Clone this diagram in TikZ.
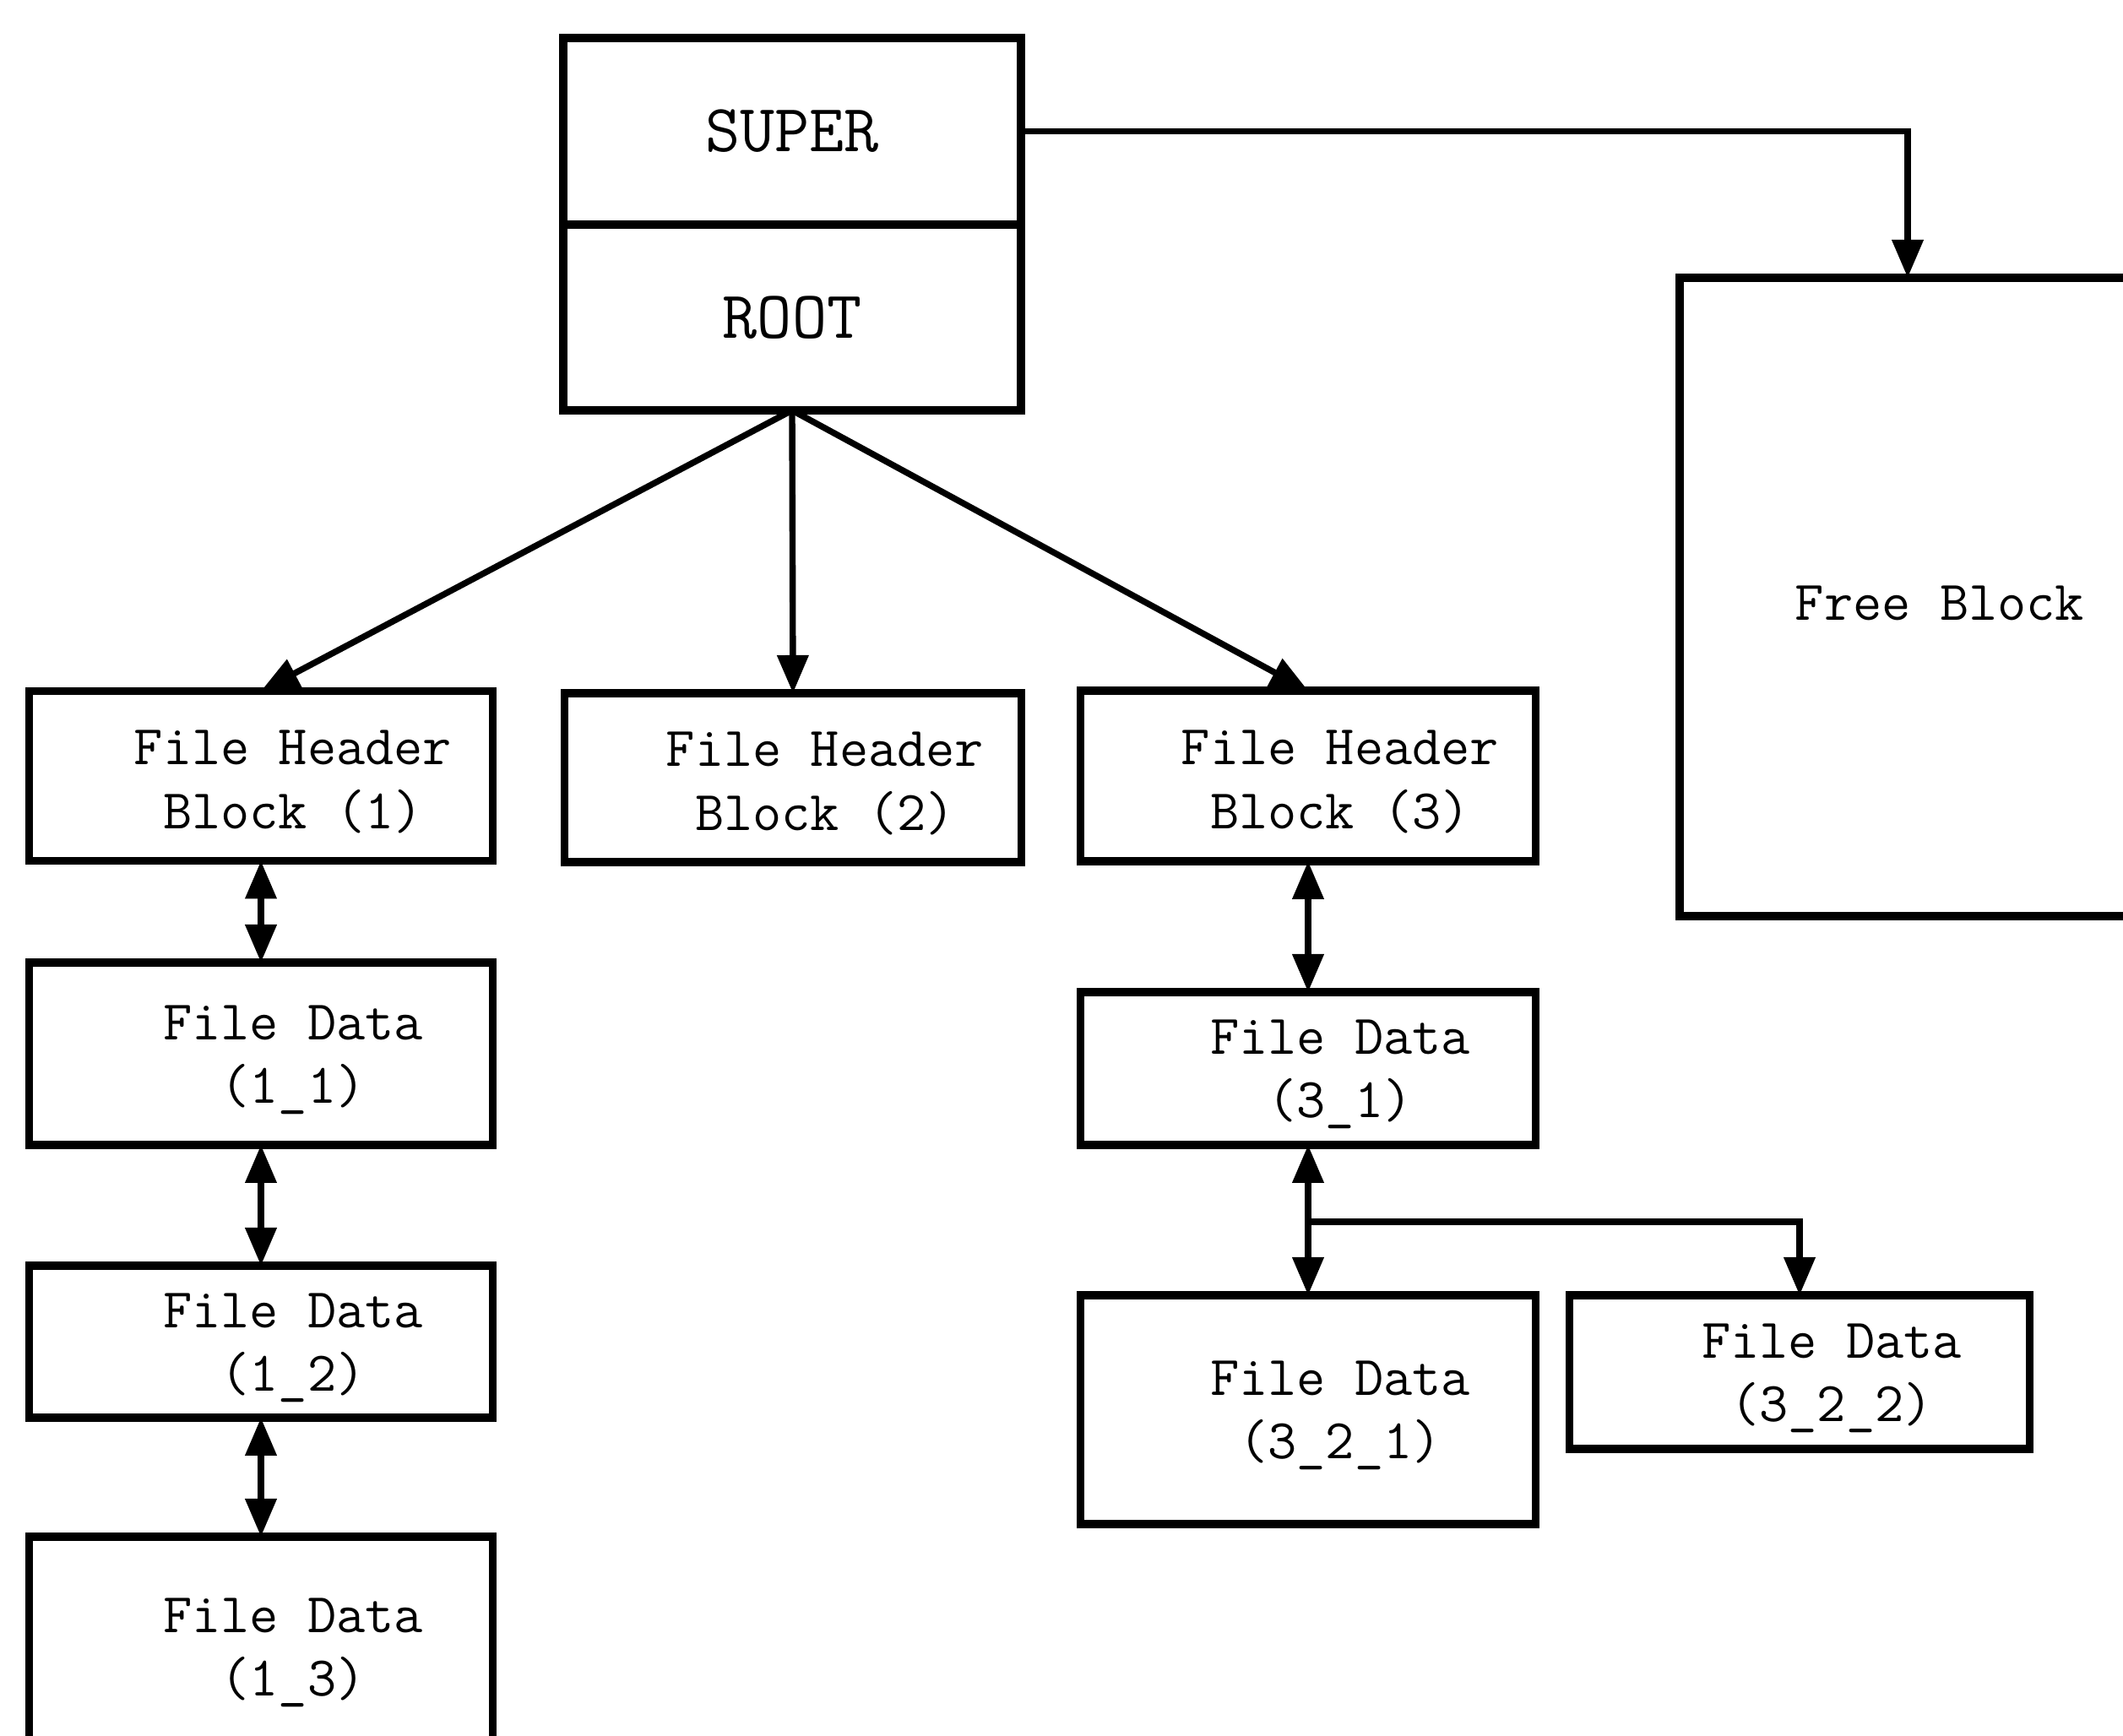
\documentclass[tikz,border=0pt]{standalone}
\usetikzlibrary{arrows.meta}

\tikzset{
    blk/.style={draw, line width=2.6pt, outer sep=0pt, inner sep=0pt},
    big/.style={font=\ttfamily\fontsize{22.7}{26}\selectfont},
    txt/.style={align=center, font=\ttfamily\fontsize{18.9}{21.4}\selectfont, xshift=0.38cm, yshift=-0.07cm},
    arr/.style={line width=2.1pt, -{Triangle[length=0.45cm, width=0.36cm]}},
    darr/.style={line width=2.1pt, {Triangle[length=0.45cm, width=0.36cm]}-{Triangle[length=0.45cm, width=0.36cm]}}
}

\begin{document}
\begin{tikzpicture}

    \useasboundingbox (0, 0) rectangle (25.14, 20.56);
    \clip (0, 0) rectangle (25.14, 20.56);

    % super and root blocks
    \node[blk, big, minimum width=5.42cm, minimum height=2.21cm] (super) at (9.38, 19.005) {SUPER};
    \node[blk, big, minimum width=5.42cm, minimum height=2.20cm] (root) at (9.38, 16.80) {ROOT};

    \node[blk, minimum width=5.40cm, minimum height=7.56cm] (free) at (22.59, 13.49) {};
    \node[txt] (freet) at (free) {Free Block};

    % file header blocks
    \node[blk, minimum width=5.49cm, minimum height=2.01cm] (fhb1) at (3.09, 11.37) {};
    \node[txt] (fhb1t) at (fhb1) {File Header\\Block (1)};
    \node[blk, minimum width=5.41cm, minimum height=2.00cm] (fhb2) at (9.39, 11.35) {};
    \node[txt] (fhb2t) at (fhb2) {File Header\\Block (2)};
    \node[blk, minimum width=5.39cm, minimum height=2.02cm] (fhb3) at (15.49, 11.37) {};
    \node[txt] (fhb3t) at (fhb3) {File Header\\Block (3)};

    % file data of file 1
    \node[blk, minimum width=5.49cm, minimum height=2.16cm] (fd11) at (3.09, 8.08) {};
    \node[txt] (fd11t) at (fd11) {File Data\\(1\_1)};
    \node[blk, minimum width=5.49cm, minimum height=1.80cm] (fd12) at (3.09, 4.67) {};
    \node[txt] (fd12t) at (fd12) {File Data\\(1\_2)};
    \node[blk, minimum width=5.49cm, minimum height=2.60cm] (fd13) at (3.09, 1.06) {};
    \node[txt] (fd13t) at (fd13) {File Data\\(1\_3)};

    % file data of file 3
    \node[blk, minimum width=5.39cm, minimum height=1.81cm] (fd31) at (15.49, 7.905) {};
    \node[txt] (fd31t) at (fd31) {File Data\\(3\_1)};
    \node[blk, minimum width=5.39cm, minimum height=2.71cm] (fd321) at (15.49, 3.865) {};
    \node[txt] (fd321t) at (fd321) {File Data\\(3\_2\_1)};
    \node[blk, minimum width=5.45cm, minimum height=1.82cm] (fd322) at (21.31, 4.31) {};
    \node[txt] (fd322t) at (fd322) {File Data\\(3\_2\_2)};

    \draw[arr] (super.east) -| (free.north);

    \draw[arr] (root.south) -- (fhb1.north);
    \draw[arr] (root.south) -- (fhb2.north);
    \draw[arr] (root.south) -- (fhb3.north);

    \draw[darr] (fhb1.south) -- (fd11.north);
    \draw[darr] (fd11.south) -- (fd12.north);
    \draw[darr] (fd12.south) -- (fd13.north);

    \draw[darr] (fhb3.south) -- (fd31.north);
    \draw[darr] (fd31.south) -- (fd321.north);
    \coordinate (br) at ([yshift=-0.91cm]fd31.south);
    \draw[arr] (br) -| (fd322.north);
    \end{tikzpicture}
\end{document}
